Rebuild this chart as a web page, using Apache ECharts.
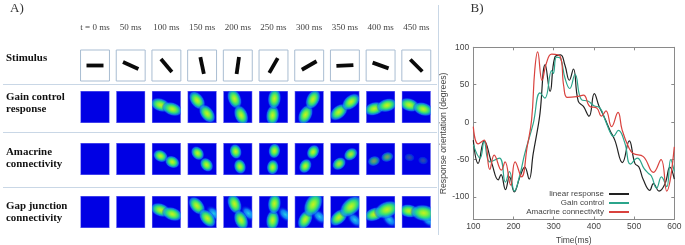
<!DOCTYPE html>
<html><head><meta charset="utf-8">
<style>html,body{margin:0;padding:0;background:#fff}#chart{width:685px;height:245px;filter:blur(0.35px)}</style>
<script src="https://cdn.jsdelivr.net/npm/echarts@6/dist/echarts.min.js"></script>
</head><body><div id="chart"></div>
<script>
// ---------- Panel A data ----------
const timeLabels = ['t = 0 ms','50 ms','100 ms','150 ms','200 ms','250 ms','300 ms','350 ms','400 ms','450 ms'];
const rowLabels = ['Stimulus','Gain control\nresponse','Amacrine\nconnectivity','Gap junction\nconnectivity'];
// orientation of the bar, degrees
const stimulusAngles = [0,-25,-50,-78,82,60,30,3,-20,-45];
// orientation of each response (degrees), separation of its two lobes (share of a cell), strength
const gainAngles   = [0,0,-19,-53,-68,84,64,40,15,-17];
const gainSpread   = [0,0,.35,.47,.50,.47,.48,.45,.37,.41];
const gainStrength = [0,0,1,1,1,1,1,1,1,1];
const amaAngles    = [0,0,-27,-52,-74,84,61,39,17,-13];
const amaSpread    = [0,0,.37,.41,.44,.46,.45,.42,.39,.39];
const amaStrength  = [0,0,1,1,1,1,1,.95,.65,.28];
const gapAngles    = [0,0,-19,-50,-68,84,62,42,20,-8];
const gapSpread    = [0,0,.35,.46,.49,.47,.48,.46,.38,.42];
const gapStrength  = [0,0,1,1,1,1,1,1,1,1];
const gapExtraX    = [0,0,0,.33,.30,.33,.29,.28,.25,.33];
const gapExtraY    = [0,0,0,.04,.04,.07,.13,.22,.22,.22];

// ---------- Panel B data: [time ms, orientation deg] ----------
const linearResponse = [[100,-24],[112,-55],[127,-25],[146,-55],[162,-77],[169,-70],[180,-90],[190,-73],[202,-93],[216,-73],[228,-60],[239,-76],[249,-42],[262,-3],[266,12],[279,77],[291,41],[303,87],[317,90],[328,76],[339,56],[349,71],[361,28],[374,21],[388,8],[401,38],[413,21],[423,10],[432,-1],[440,-11],[452,-24],[471,-54],[488,-25],[502,-55],[512,-60],[523,-77],[539,-91],[548,-82],[562,-92],[577,-82],[589,-60],[600,-76]];
const gainControl = [[100,-30],[117,-48],[127,-26],[141,-53],[165,-48],[180,-80],[190,-66],[202,-92],[216,-70],[228,-42],[249,-2],[266,39],[278,32],[295,69],[299,65],[307,87],[317,85],[328,59],[340,45],[353,64],[369,30],[386,28],[400,22],[415,19],[428,3],[440,-13],[448,-19],[461,-11],[477,-28],[491,-56],[508,-48],[525,-62],[535,-68],[543,-72],[556,-88],[568,-73],[581,-86],[591,-50],[600,-66]];
const amacrineConnectivity = [[100,-6],[112,-29],[127,-24],[141,-63],[152,-44],[170,-64],[179,-53],[193,-84],[204,-53],[220,-73],[234,-33],[245,3],[253,70],[260,94],[271,56],[282,79],[295,91],[316,88],[325,48],[334,33],[357,34],[374,36],[390,21],[407,19],[419,8],[430,15],[444,-6],[460,13],[470,-10],[486,-33],[498,-42],[523,-46],[548,-67],[567,-50],[581,-92],[600,-33]];
const xTicks = [100,200,300,400,500,600];
const yTicks = [-100,-50,0,50,100];

const rows = [
  {top:50, height:31},
  {top:91, height:32},
  {top:143,height:32},
  {top:196,height:32}
];
const blobStops = [
  {offset:0,color:'rgba(200,240,30,1)'},
  {offset:.28,color:'rgba(130,240,60,1)'},
  {offset:.55,color:'rgba(40,225,130,.95)'},
  {offset:.8,color:'rgba(20,150,240,.7)'},
  {offset:1,color:'rgba(0,0,230,0)'}
];
const extraStops = [
  {offset:0,color:'rgba(40,230,230,.95)'},
  {offset:.5,color:'rgba(20,170,250,.75)'},
  {offset:1,color:'rgba(0,0,230,0)'}
];
function blob(x,y,rx,ry,deg,op,stops){
  return {type:'circle',x:x,y:y,scaleX:rx/10,scaleY:ry/10,rotation:deg*Math.PI/180,
    shape:{cx:0,cy:0,r:10},silent:true,
    style:{opacity:op,fill:{type:'radial',x:.5,y:.5,r:.5,colorStops:stops}}};
}
function stimulusItem(params,api){
  const i=api.value(0), c=api.coord([i,.5]), pitch=api.size([1,0])[0], h=rows[0].height, w=pitch*.81;
  return {type:'group',children:[
    {type:'rect',shape:{x:c[0]-w/2,y:c[1]-h/2,width:w,height:h},style:{fill:'#fff',stroke:'#a9bdd2',lineWidth:1}},
    {type:'rect',x:c[0],y:c[1],rotation:api.value(1)*Math.PI/180,shape:{x:-8.5,y:-1.9,width:17,height:3.8},style:{fill:'#0a0a0a'}}
  ]};
}
function responseItem(rowIdx,angles,spread,strength,ex,ey){
  return function(params,api){
    const i=api.value(0), c=api.coord([i,.5]), pitch=api.size([1,0])[0], h=rows[rowIdx].height, w=pitch*.81;
    const a=angles[i]*Math.PI/180, d=spread[i]*pitch/2, s=strength[i];
    const kids=[{type:'rect',shape:{x:c[0]-w/2,y:c[1]-h/2,width:w,height:h},style:{fill:'#0000e4',stroke:'#7f7ff2',lineWidth:1}}];
    if(s>0){
      const gap=rowIdx===3, grow=gap&&i>=6?1.25:1;
      const r=rowIdx===2?[8*(.55+.45*s),6.3*(.55+.45*s)]:[11,7];
      if(ex && ex[i]) kids.push(blob(c[0]+ex[i]*pitch,c[1]+ey[i]*pitch,6,10,45,.95,extraStops));
      kids.push(blob(c[0]-d*Math.cos(a),c[1]+d*Math.sin(a),r[0],r[1],angles[i],s,blobStops));
      kids.push(blob(c[0]+d*Math.cos(a),c[1]-d*Math.sin(a),r[0]*grow,r[1]*grow,angles[i],s,blobStops));
    }
    return {type:'group',clipPath:{type:'rect',shape:{x:c[0]-w/2,y:c[1]-h/2,width:w,height:h}},children:kids};
  };
}
const cols = timeLabels.map((_,i)=>i);
const grids=[],xAxes=[],yAxes=[],series=[];
rows.forEach((r,k)=>{
  grids.push({left:77.15,width:357,top:r.top,height:r.height,outerBoundsMode:'none'});
  xAxes.push({type:'category',gridIndex:k,data:timeLabels,position:'top',boundaryGap:true,
    axisLine:{show:false},axisTick:{show:false},splitLine:{show:false},
    axisLabel:{show:k===0,interval:0,margin:22,fontFamily:'Liberation Serif',fontSize:9,color:'#444',verticalAlign:'middle'}});
  yAxes.push({type:'value',gridIndex:k,min:0,max:1,show:false});
});
series.push({type:'custom',xAxisIndex:0,yAxisIndex:0,coordinateSystem:'cartesian2d',clip:false,silent:true,
  data:cols.map(i=>[i,stimulusAngles[i]]),encode:{x:0},renderItem:stimulusItem});
[[1,gainAngles,gainSpread,gainStrength],[2,amaAngles,amaSpread,amaStrength],[3,gapAngles,gapSpread,gapStrength,gapExtraX,gapExtraY]].forEach(a=>{
  series.push({type:'custom',xAxisIndex:a[0],yAxisIndex:a[0],coordinateSystem:'cartesian2d',clip:false,silent:true,
    data:cols.map(i=>[i,.5]),encode:{x:0,y:1},renderItem:responseItem(a[0],a[1],a[2],a[3],a[4],a[5])});
});
// Panel B grid
const axisColor='#8a8a8a', labelStyle={fontFamily:'Liberation Sans',fontSize:8.5,color:'#444'};
grids.push({left:473.3,right:10.7,top:47.3,height:172.2,outerBoundsMode:'none'});
xAxes.push({type:'value',gridIndex:4,min:100,max:600,position:'bottom',name:'Time(ms)',nameLocation:'middle',nameGap:15,
  nameTextStyle:labelStyle,axisLine:{onZero:false,lineStyle:{color:axisColor}},splitLine:{show:false},
  axisTick:{inside:true,length:3,lineStyle:{color:axisColor},customValues:xTicks},
  axisLabel:{...labelStyle,margin:3,customValues:xTicks}});
xAxes.push({type:'value',gridIndex:4,min:100,max:600,position:'top',axisLine:{onZero:false,lineStyle:{color:axisColor}},splitLine:{show:false},
  axisTick:{inside:true,length:3,lineStyle:{color:axisColor},customValues:xTicks},axisLabel:{show:false}});
yAxes.push({type:'value',gridIndex:4,min:-130,max:100,position:'left',name:'Response orientation (degrees)',nameLocation:'middle',nameGap:16,
  nameRotate:90,nameTextStyle:{...labelStyle,fontSize:8.7},axisLine:{show:true,onZero:false,lineStyle:{color:axisColor}},splitLine:{show:false},
  axisTick:{show:true,inside:true,length:3,lineStyle:{color:axisColor},customValues:yTicks},
  axisLabel:{...labelStyle,margin:4,customValues:yTicks}});
yAxes.push({type:'value',gridIndex:4,min:-130,max:100,position:'right',axisLine:{show:true,onZero:false,lineStyle:{color:axisColor}},splitLine:{show:false},
  axisTick:{show:true,inside:true,length:3,lineStyle:{color:axisColor},customValues:yTicks},axisLabel:{show:false}});
[['linear response',linearResponse,'#222222'],['Gain control',gainControl,'#2ba58b'],['Amacrine connectivity',amacrineConnectivity,'#d9423e']].forEach(s=>{
  series.push({name:s[0],type:'line',xAxisIndex:4,yAxisIndex:4,data:s[1],smooth:.45,showSymbol:false,symbol:'none',
    lineStyle:{color:s[2],width:1.2},itemStyle:{color:s[2]},z:5});
});
const sep='#c9d7e6';
const graphics=[
  {type:'text',left:10,top:2,style:{text:'A)',font:'13px "Liberation Serif"',fill:'#333'}},
  {type:'text',left:470.5,top:2,style:{text:'B)',font:'13px "Liberation Serif"',fill:'#333'}},
  {type:'line',shape:{x1:3,y1:84.5,x2:437,y2:84.5},style:{stroke:sep,lineWidth:1}},
  {type:'line',shape:{x1:3,y1:132.5,x2:437,y2:132.5},style:{stroke:sep,lineWidth:1}},
  {type:'line',shape:{x1:3,y1:187.5,x2:437,y2:187.5},style:{stroke:sep,lineWidth:1}},
  {type:'line',shape:{x1:438.5,y1:5,x2:438.5,y2:235},style:{stroke:sep,lineWidth:1}}
];
[58.5,103,158,212].forEach((y,i)=>{
  graphics.push({type:'text',x:6,y:y,style:{text:rowLabels[i],font:'bold 10.9px "Liberation Serif"',fill:'#111',
    lineHeight:11.5,verticalAlign:'middle'}});
});
const chart=echarts.init(document.getElementById('chart'),null,{renderer:'canvas'});
chart.setOption({
  animation:false,backgroundColor:'#fff',
  grid:grids,xAxis:xAxes,yAxis:yAxes,series:series,graphic:graphics,
  legend:{data:['linear response','Gain control','Amacrine connectivity'],orient:'vertical',align:'right',right:55,top:189.5,
    itemWidth:20,itemHeight:6,itemGap:0,padding:0,itemStyle:{opacity:0},
    textStyle:{...labelStyle,fontSize:8,height:9,lineHeight:9},selectedMode:false}
});
</script></body></html>
